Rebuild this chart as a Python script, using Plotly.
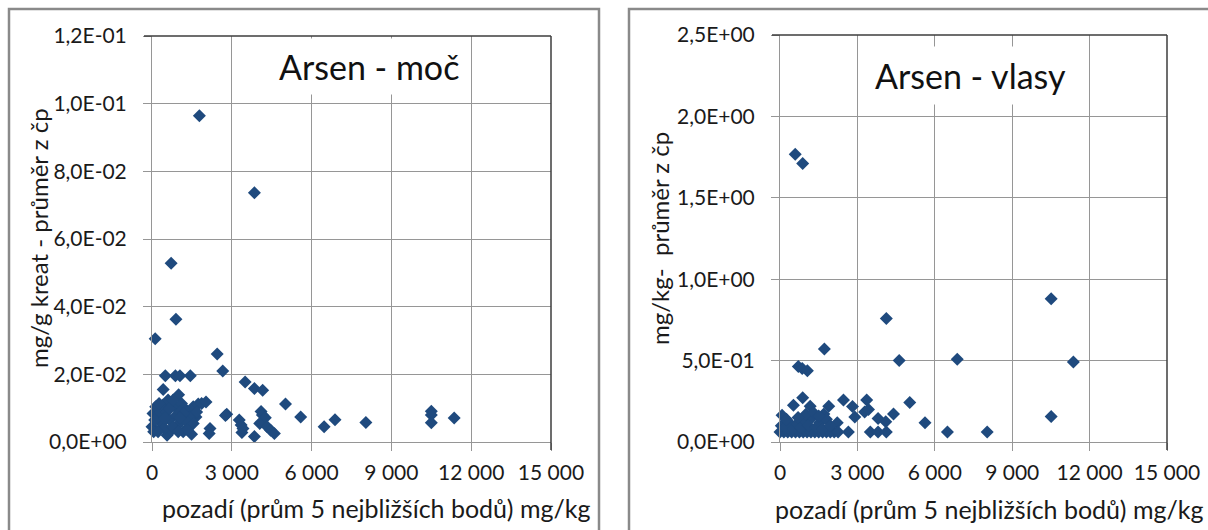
import plotly.graph_objects as go

W, H = 1208, 530

# ---- data: Arsen - moč ----
moc_x = [1780, 3850, 720, 900, 120, 2450, 2660, 500, 880, 1050, 1440, 420, 1000,
         3500, 3850, 4160, 5020, 5590, 6470, 6880, 8040, 10500, 10500, 10500, 11360,
         2810, 2760, 2180, 2150, 3280, 3350, 3380, 3420, 3850, 4100, 4150, 4260, 4050,
         4330, 4460, 4600,
         38, 0, 63, 139, 290, 416, 542, 605, 668, 567, 731, 857, 920, 1021, 1110, 1173,
         1299, 1400, 1488, 1551, 1652, 1740, 1866, 2030, 1425, 353, 479, 794, 1047, 1236,
         101, 1677, 668, 984, 227, 1324, 1551, 1173, 265, 794, 479, 1047]
moc_y = [0.0964, 0.0737, 0.0528, 0.0363, 0.0305, 0.0260, 0.0210, 0.0196, 0.0196, 0.0196,
         0.0196, 0.0155, 0.0140, 0.0177, 0.0158, 0.0153, 0.0112, 0.0074, 0.0045, 0.0066,
         0.0058, 0.0091, 0.0080, 0.0057, 0.0071, 0.0082, 0.0078, 0.0040, 0.0025, 0.0065,
         0.0050, 0.0028, 0.0040, 0.0016, 0.0090, 0.0080, 0.0072, 0.0055, 0.0045, 0.0035,
         0.0025,
         0.0084, 0.0045, 0.0030, 0.0104, 0.0084, 0.0109, 0.0089, 0.0124, 0.0065, 0.0020,
         0.0035, 0.0104, 0.0079, 0.0055, 0.0114, 0.0030, 0.0094, 0.0045, 0.0023, 0.0104,
         0.0074, 0.0112, 0.0114, 0.0118, 0.0074, 0.0055, 0.0040, 0.0045, 0.0089, 0.0065,
         0.0065, 0.0089, 0.0099, 0.0030, 0.0030, 0.0037, 0.0055, 0.0084, 0.0114, 0.0124,
         0.0070, 0.0070]

# ---- data: Arsen - vlasy ----
vlasy_x = [590, 880, 4120, 10510, 1720, 4620, 6870, 11370, 710, 860, 1060, 880, 10510,
           6490, 8030, 5620, 5030, 2460, 3360, 2810, 2900, 3280, 3430, 2650, 3500, 3800,
           4120, 3800, 4100, 4400, 1890, 1700, 1170, 520, 80, 2220,
           0, 150, 300, 450, 600, 750, 900, 1050, 1200, 1350, 1500, 1650, 1800, 1950,
           2100, 2250,
           50, 200, 350, 500, 650, 800, 950, 1100, 1250, 1400, 1550, 1650, 1800, 1950,
           250, 1000, 1300, 1500, 700]
vlasy_y = [1.768, 1.710, 0.759, 0.880, 0.571, 0.500, 0.508, 0.492, 0.463, 0.452, 0.438,
           0.272, 0.156, 0.062, 0.062, 0.118, 0.243, 0.258, 0.258, 0.218, 0.153, 0.185,
           0.200, 0.062, 0.062, 0.062, 0.062, 0.145, 0.125, 0.172, 0.220, 0.172, 0.220,
           0.225, 0.165, 0.118,
           0.062, 0.062, 0.062, 0.062, 0.062, 0.062, 0.062, 0.062, 0.062, 0.062, 0.062,
           0.062, 0.062, 0.062, 0.062, 0.062,
           0.10, 0.09, 0.12, 0.08, 0.11, 0.09, 0.13, 0.10, 0.15, 0.09, 0.12, 0.08, 0.14,
           0.10, 0.14, 0.17, 0.18, 0.16, 0.15]

x_ticks = [0, 3000, 6000, 9000, 12000, 15000]
x_ticktext = ["0", "3 000", "6 000", "9 000", "12 000", "15 000"]
moc_yticks = [0, 0.02, 0.04, 0.06, 0.08, 0.10, 0.12]
moc_yticktext = ["0,0E+00", "2,0E-02", "4,0E-02", "6,0E-02", "8,0E-02", "1,0E-01", "1,2E-01"]
vlasy_yticks = [0, 0.5, 1.0, 1.5, 2.0, 2.5]
vlasy_yticktext = ["0,0E+00", "5,0E-01", "1,0E+00", "1,5E+00", "2,0E+00", "2,5E+00"]

FONT = "Lato"
MARK = "#1f4a7e"
GRID = "#969696"
TXT = "#1a1a1a"

def px(x):
    return x / W

def py(y):
    return (H - y) / H

fig = go.Figure()
fig.add_trace(go.Scatter(x=moc_x, y=moc_y, mode="markers", xaxis="x", yaxis="y",
                         marker=dict(symbol="diamond", size=10, color=MARK),
                         cliponaxis=False, showlegend=False))
fig.add_trace(go.Scatter(x=vlasy_x, y=vlasy_y, mode="markers", xaxis="x2", yaxis="y2",
                         marker=dict(symbol="diamond", size=10, color=MARK),
                         cliponaxis=False, showlegend=False))

def xaxis(domain, anchor):
    return dict(domain=domain, anchor=anchor, range=[0, 15000], tickvals=x_ticks,
                ticktext=x_ticktext, showgrid=True, gridcolor=GRID, gridwidth=1,
                zeroline=False, showline=True, linecolor=GRID, linewidth=1,
                ticks="outside", ticklen=8, tickcolor=GRID, ticklabelstandoff=4,
                automargin=False,
                tickfont=dict(family=FONT, size=21, color=TXT), fixedrange=True)

def yaxis(domain, anchor, rng, vals, text):
    return dict(domain=domain, anchor=anchor, range=rng, tickvals=vals, ticktext=text,
                showgrid=True, gridcolor=GRID, gridwidth=1, zeroline=False,
                showline=True, linecolor=GRID, linewidth=1, ticks="outside",
                ticklen=8, tickcolor=GRID, ticklabelstandoff=12, automargin=False,
                tickfont=dict(family=FONT, size=21, color=TXT), fixedrange=True)

L = (152, 551, 36, 442)
R = (780, 1167, 35, 442)

fig.update_layout(
    template="none",
    width=W, height=H, autosize=False, margin=dict(l=0, r=0, t=0, b=0, pad=0),
    paper_bgcolor="white", plot_bgcolor="white",
    xaxis=xaxis([px(L[0]), px(L[1])], "y"),
    yaxis=yaxis([py(L[3]), py(L[2])], "x", [0, 0.12], moc_yticks, moc_yticktext),
    xaxis2=xaxis([px(R[0]), px(R[1])], "y2"),
    yaxis2=yaxis([py(R[3]), py(R[2])], "x2", [0, 2.5], vlasy_yticks, vlasy_yticktext),
    font=dict(family=FONT, color=TXT),
)

shapes = []
# outer chart frames
shapes.append(dict(type="rect", xref="paper", yref="paper", x0=px(9), x1=px(599),
                   y0=-0.05, y1=py(9), line=dict(color="#8a8a8a", width=2.5)))
shapes.append(dict(type="rect", xref="paper", yref="paper", x0=px(629), x1=1.05,
                   y0=-0.05, y1=py(9), line=dict(color="#8a8a8a", width=2.5)))
# dark top/right plot borders
for (x0, x1, y0, y1) in (L, R):
    shapes.append(dict(type="line", xref="paper", yref="paper", x0=px(x0 - 8), x1=px(x1),
                       y0=py(y0), y1=py(y0), line=dict(color="#3c3c3c", width=1.5)))
    shapes.append(dict(type="line", xref="paper", yref="paper", x0=px(x1), x1=px(x1),
                       y0=py(y0), y1=py(y1 + 8), line=dict(color="#3c3c3c", width=1.5)))
fig.update_layout(shapes=shapes)

ann = []
ann.append(dict(text="Arsen - moč", xref="paper", yref="paper", x=px(369), y=py(67),
                showarrow=False, font=dict(family=FONT, size=34, color="#111"),
                bgcolor="white", borderpad=7, xanchor="center", yanchor="middle"))
ann.append(dict(text="Arsen - vlasy", xref="paper", yref="paper", x=px(970), y=py(76),
                showarrow=False, font=dict(family=FONT, size=34, color="#111"),
                bgcolor="white", borderpad=8, xanchor="center", yanchor="middle"))
ann.append(dict(text="pozadí (prům 5 nejbližších bodů) mg/kg", xref="paper", yref="paper",
                x=px(160), y=py(508), showarrow=False, xanchor="left", yanchor="middle",
                font=dict(family=FONT, size=25, color=TXT)))
ann.append(dict(text="pozadí (prům 5 nejbližších bodů) mg/kg", xref="paper", yref="paper",
                x=px(1205), y=py(509), showarrow=False, xanchor="right", yanchor="middle",
                font=dict(family=FONT, size=25, color=TXT)))
ann.append(dict(text="mg/g kreat - průměr z čp", xref="paper", yref="paper",
                x=px(38), y=py(238), showarrow=False, textangle=-90,
                xanchor="center", yanchor="middle",
                font=dict(family=FONT, size=24, color=TXT)))
ann.append(dict(text="mg/kg-  průměr z čp", xref="paper", yref="paper",
                x=px(659), y=py(239), showarrow=False, textangle=-90,
                xanchor="center", yanchor="middle",
                font=dict(family=FONT, size=24, color=TXT)))
fig.update_layout(annotations=ann)

fig.write_html("out.html")
